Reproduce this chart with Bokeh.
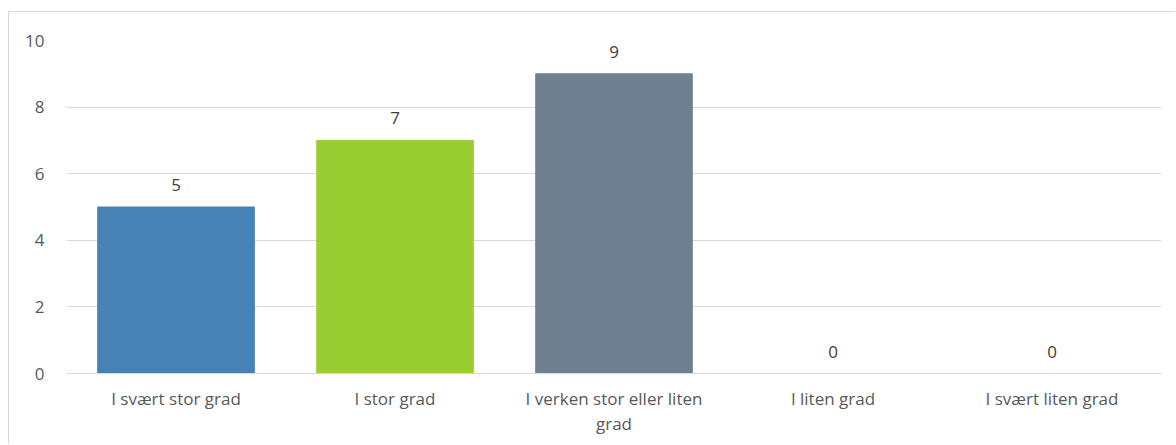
from bokeh.plotting import figure
from bokeh.models import ColumnDataSource, Range1d, FactorRange, LabelSet
from bokeh.core.properties import value
from bokeh.embed import file_html
from bokeh.resources import INLINE

categories = ["I svært stor grad", "I stor grad", "I verken stor eller liten\ngrad", "I liten grad", "I svært liten grad"]
values = [5, 7, 9, 0, 0]
colors = ["#4682B4", "#9ACD32", "#708090", "#A9A9A9", "#A9A9A9"]

FONT = "Open Sans"
TXT = "#595959"

src = ColumnDataSource(dict(cat=categories, val=values, col=colors,
                            lab=[str(v) for v in values]))

p = figure(x_range=FactorRange(*categories), y_range=Range1d(0, 10),
           width=1167, height=433, output_backend="svg", toolbar_location=None,
           min_border_left=57, min_border_right=15, min_border_top=28, min_border_bottom=72)
p.margin = (11, 0, 0, 8)
p.styles = {"border-top": "1px solid #d9d9d9", "border-left": "1px solid #d9d9d9"}
p.outline_line_color = None
p.x_range.range_padding = 0
p.x_range.group_padding = 0

p.vbar(x="cat", top="val", width=0.715, color="col", source=src)

labels = LabelSet(x="cat", y="val", text="lab", source=src, y_offset=16,
                  text_align="center", text_baseline="bottom",
                  text_font=value(FONT), text_font_size="17px", text_color="#404040")
p.add_layout(labels)

p.xgrid.grid_line_color = None
p.ygrid.grid_line_color = "#d9d9d9"
p.ygrid.grid_line_width = 1
p.yaxis.ticker = [0, 2, 4, 6, 8, 10]
p.yaxis.axis_line_color = None
p.yaxis.major_tick_line_color = None
p.yaxis.minor_tick_line_color = None
p.yaxis.major_label_standoff = 16
p.xaxis.axis_line_color = "#d9d9d9"
p.xaxis.major_tick_line_color = None
p.xaxis.minor_tick_line_color = None
p.xaxis.major_label_standoff = 7
for ax in (p.xaxis, p.yaxis):
    ax.major_label_text_font = FONT
    ax.major_label_text_font_size = "17px"
    ax.major_label_text_color = TXT
    ax.major_label_text_font_style = "normal"
p.xaxis.major_label_text_line_height = 1.1

open("out.html", "w").write(file_html(p, INLINE))
